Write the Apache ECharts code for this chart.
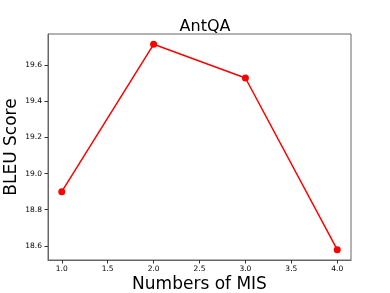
<!DOCTYPE html>
<html>
<head>
<meta charset="utf-8">
<script src="https://cdn.jsdelivr.net/npm/echarts@6/dist/echarts.min.js"></script>
<style>html,body{margin:0;padding:0;background:#fff;}#c{width:390px;height:293px;}</style>
</head>
<body>
<div id="c"></div>
<script>
const xValues = [1, 2, 3, 4];
const bleuScores = [18.90, 19.717, 19.53, 18.578];
const xTicks = [1.0, 1.5, 2.0, 2.5, 3.0, 3.5, 4.0];
const yTicks = [18.6, 18.8, 19.0, 19.2, 19.4, 19.6];

const chart = echarts.init(document.getElementById('c'), null, {renderer: 'canvas'});
const font = 'DejaVu Sans';
chart.setOption({
  animation: false,
  backgroundColor: '#fff',
  title: {
    text: 'AntQA', left: 200, top: 14, textAlign: 'center',
    textStyle: {fontFamily: font, fontSize: 16, fontWeight: 'normal', color: '#000'}
  },
  grid: {left: 48, right: 39, top: 34, bottom: 33, show: true, borderColor: '#666', borderWidth: 1,
    containLabel: false, outerBoundsMode: 'none'},
  xAxis: {
    type: 'value', min: 0.85, max: 4.15,
    name: 'Numbers of MIS', nameLocation: 'middle', nameGap: 16, nameMoveOverlap: false,
    nameTextStyle: {fontFamily: font, fontSize: 17, color: '#000'},
    axisLine: {show: true, lineStyle: {color: '#666', width: 1}},
    axisTick: {show: true, length: 3.5, customValues: xTicks, lineStyle: {color: '#333'}},
    axisLabel: {customValues: xTicks, fontFamily: font, fontSize: 7.5, color: '#000', margin: 5,
      formatter: v => v.toFixed(1)},
    splitLine: {show: false}
  },
  yAxis: {
    type: 'value', min: 18.521, max: 19.774,
    name: 'BLEU Score', nameLocation: 'middle', nameGap: 28, nameMoveOverlap: false,
    nameTextStyle: {fontFamily: font, fontSize: 17, color: '#000'},
    axisLine: {show: true, lineStyle: {color: '#666', width: 1}},
    axisTick: {show: true, length: 3.5, customValues: yTicks, lineStyle: {color: '#333'}},
    axisLabel: {customValues: yTicks, fontFamily: font, fontSize: 7.5, color: '#000', margin: 6,
      formatter: v => v.toFixed(1)},
    splitLine: {show: false}
  },
  series: [{
    type: 'line',
    data: xValues.map((x, i) => [x, bleuScores[i]]),
    symbol: 'circle', symbolSize: 7,
    lineStyle: {color: '#ff0000', width: 1.5},
    itemStyle: {color: '#ff0000'}
  }]
});
</script>
</body>
</html>
